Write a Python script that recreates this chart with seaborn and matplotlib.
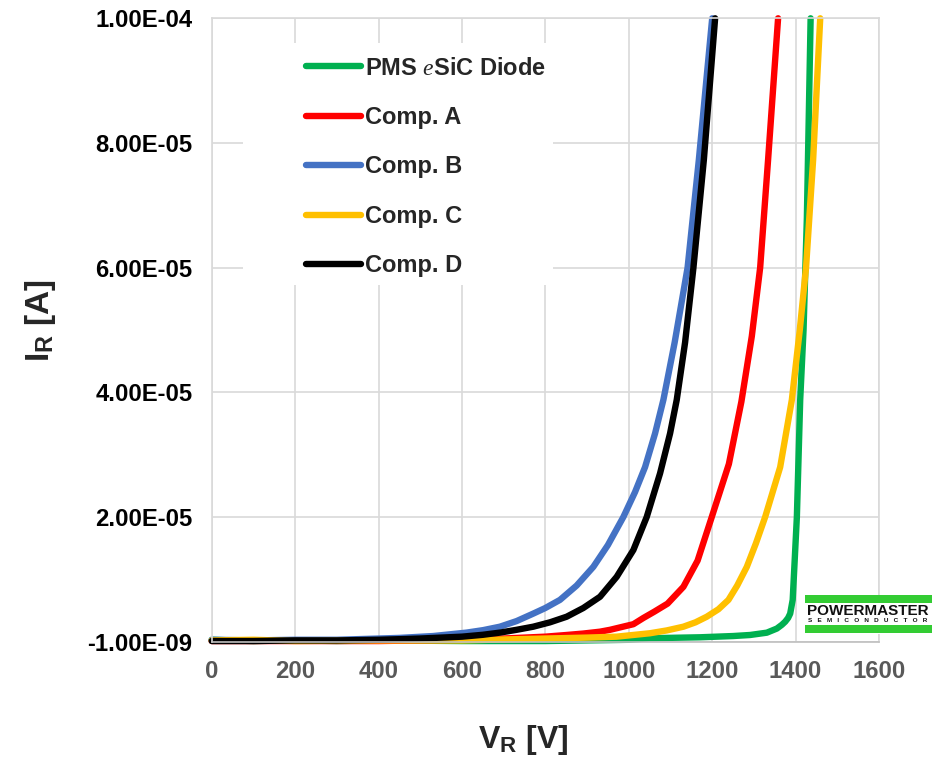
import matplotlib
matplotlib.use("Agg")
import matplotlib.pyplot as plt
from matplotlib.patches import Rectangle
import seaborn as sns
import pandas as pd

# ---------------- data (V in volts, I in microamps) ----------------
series_names = ["PMS $\\mathit{e}$SiC Diode", "Comp. A", "Comp. B", "Comp. C", "Comp. D"]

pms_v = [0, 100, 200, 300, 400, 600, 800, 1000, 1051, 1171, 1250, 1291, 1331, 1355,
         1367, 1375, 1382, 1387, 1393, 1397, 1403, 1411, 1419, 1427, 1436]
pms_i = [0.3, 0.1, 0.2, 0.1, 0.2, 0.1, 0.1, 0.3, 0.55, 0.7, 0.9, 1.07, 1.44, 2.1,
         2.7, 3.2, 3.8, 4.5, 6.7, 12.0, 20.0, 38.8, 50.0, 68.0, 100.0]

a_v = [0, 200, 400, 600, 700, 800, 851, 891, 931, 955, 1011, 1035, 1061, 1093, 1131,
       1165, 1199, 1240, 1270, 1295, 1315, 1334, 1358]
a_i = [0.1, 0.1, 0.1, 0.3, 0.5, 0.8, 1.07, 1.3, 1.6, 1.9, 2.8, 3.8, 4.8, 6.1, 8.8,
       13.0, 20.0, 28.5, 38.5, 49.0, 60.0, 77.3, 100.0]

b_v = [0, 100, 200, 300, 400, 450, 531, 611, 651, 691, 731, 771, 800, 835, 875, 915,
       950, 987, 1015, 1039, 1063, 1083, 1110, 1141, 1168, 1200]
b_i = [0.3, 0.2, 0.3, 0.3, 0.5, 0.6, 0.9, 1.45, 1.85, 2.4, 3.3, 4.5, 5.4, 6.7, 9.0, 12.0,
       15.5, 20.0, 24.0, 28.0, 33.4, 38.8, 48.0, 60.0, 77.3, 100.0]

c_v = [0, 100, 200, 400, 600, 800, 900, 971, 1051, 1091, 1131, 1160, 1187, 1215, 1239,
       1260, 1283, 1305, 1327, 1345, 1363, 1391, 1410, 1425, 1442, 1459]
c_i = [0.2, 0.3, 0.1, 0.2, 0.2, 0.5, 0.65, 0.8, 1.35, 1.8, 2.4, 3.1, 4.0, 5.2, 6.7,
       9.0, 12.0, 15.8, 20.0, 24.0, 28.0, 38.8, 50.0, 60.0, 77.3, 100.0]

d_v = [0, 100, 200, 300, 400, 452, 500, 550, 600, 650, 691, 731, 771, 811, 851, 891,
       931, 971, 1011, 1043, 1075, 1099, 1115, 1135, 1155, 1180, 1207]
d_i = [0.1, 0.1, 0.2, 0.2, 0.3, 0.4, 0.5, 0.65, 0.8, 1.1, 1.45, 1.9, 2.4, 3.1, 4.0, 5.4,
       7.2, 10.4, 14.7, 20.0, 27.0, 33.4, 38.8, 48.0, 60.0, 77.3, 100.0]

colors = ["#00B050", "#FF0000", "#4472C4", "#FFC000", "#000000"]

x_ticks = [0, 200, 400, 600, 800, 1000, 1200, 1400, 1600]
y_ticks = [-1e-9, 2e-5, 4e-5, 6e-5, 8e-5, 1e-4]
y_tick_labels = ["-1.00E-09", "2.00E-05", "4.00E-05", "6.00E-05", "8.00E-05", "1.00E-04"]

# ---------------- build long table ----------------
rows = []
for name, vs, cs in zip(series_names, [pms_v, a_v, b_v, c_v, d_v], [pms_i, a_i, b_i, c_i, d_i]):
    for v, i in zip(vs, cs):
        rows.append({"series": name, "V": v, "I": i * 1e-6})
df = pd.DataFrame(rows)

sns.set_style("white")
plt.rcParams["font.family"] = ["Liberation Sans", "DejaVu Sans"]
plt.rcParams["mathtext.fontset"] = "custom"
plt.rcParams["mathtext.bf"] = "Liberation Sans:bold"
plt.rcParams["mathtext.rm"] = "Liberation Sans"
plt.rcParams["mathtext.it"] = "Liberation Serif:italic"

fig = plt.figure(figsize=(9.46, 7.59), dpi=100)
ax = fig.add_axes([0.2238, 0.1546, 0.7054, 0.8213])

sns.lineplot(data=df, x="V", y="I", hue="series", hue_order=series_names,
             palette=dict(zip(series_names, colors)), sort=False, estimator=None,
             units="series", linewidth=4.6, ax=ax, legend=False)
for ln in ax.lines:
    ln.set_clip_on(False)
    ln.set_solid_capstyle("round")
    ln.set_solid_joinstyle("round")

ax.set_xlim(0, 1600)
ax.set_ylim(-1e-9, 1e-4)
ax.set_xticks(x_ticks)
ax.set_xticklabels([str(t) for t in x_ticks])
ax.set_yticks(y_ticks)
ax.set_yticklabels(y_tick_labels)
ax.set_xlabel("")
ax.set_ylabel("")

grid_c = "#D9D9D9"
ax.grid(True, color=grid_c, linewidth=1.2)
ax.set_axisbelow(True)
for s in ax.spines.values():
    s.set_color(grid_c)
    s.set_linewidth(1.2)
ax.spines["bottom"].set_color("#BFBFBF")
ax.tick_params(axis="both", length=0)
ax.tick_params(axis="x", pad=13, labelsize=17.2, labelcolor="#595959")
ax.tick_params(axis="y", pad=14, labelsize=17.2, labelcolor="black")
for lab in ax.get_xticklabels() + ax.get_yticklabels():
    lab.set_fontweight("bold")

# legend background (covers grid)
ax.add_patch(Rectangle((0.047, 0.572), 0.464, 0.388, transform=ax.transAxes,
                       facecolor="white", edgecolor="none", zorder=1))
handles = [plt.Line2D([], [], color=c, linewidth=4.6, solid_capstyle="round") for c in colors]
leg = ax.legend(handles, series_names, loc="upper left", bbox_to_anchor=(0.1413, 0.9387),
                frameon=False, borderpad=0, borderaxespad=0, handlelength=2.35,
                handletextpad=0.15, labelspacing=1.12,
                prop={"weight": "bold", "size": 17, "family": "Liberation Sans"})

# axis titles
fig.text(523 / 946, 1 - 740 / 759, r"$\mathbf{V}_{\mathbf{R}}$ [V]", ha="center", va="center",
         fontsize=23, fontweight="bold")
fig.text(41 / 946, 1 - 321 / 759, r"$\mathbf{I}_{\mathbf{R}}$ [A]", ha="center", va="center",
         fontsize=24, fontweight="bold", rotation=90)

# logo
fig.add_artist(Rectangle((805 / 946, 1 - 634 / 759), 127 / 946, 39 / 759,
                         transform=fig.transFigure, facecolor="white", edgecolor="none"))
fig.add_artist(Rectangle((805 / 946, 1 - 603 / 759), 127 / 946, 8 / 759,
                         transform=fig.transFigure, facecolor="#33CC33", edgecolor="none"))
fig.add_artist(Rectangle((805 / 946, 1 - 633 / 759), 127 / 946, 8 / 759,
                         transform=fig.transFigure, facecolor="#33CC33", edgecolor="none"))
fig.text(868 / 946, 1 - 611 / 759, "POWERMASTER", ha="center", va="center",
         fontsize=11, fontweight="heavy", color="#111111")
fig.text(868 / 946, 1 - 620.5 / 759, "S   E   M   I   C   O   N   D   U   C   T   O   R",
         ha="center", va="center", fontsize=4.6, fontweight="bold", color="#111111")

fig.savefig("out.png", dpi=100, facecolor="white")
